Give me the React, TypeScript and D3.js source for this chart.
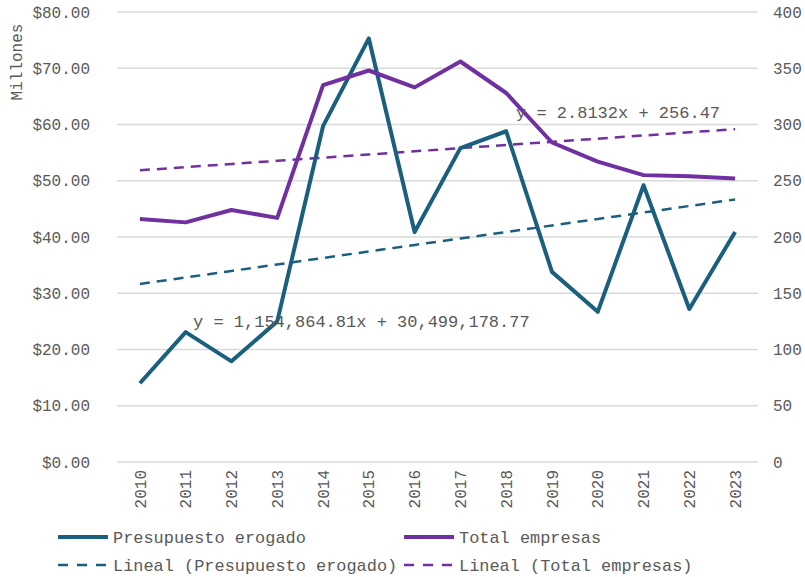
import React from 'react';
import * as d3 from 'd3';

// Años y series
const years = ['2010', '2011', '2012', '2013', '2014', '2015', '2016', '2017', '2018', '2019', '2020', '2021', '2022', '2023'];
// Presupuesto erogado, en pesos (eje izquierdo, millones)
const presupuesto = [14.0, 23.1, 17.9, 25.0, 59.7, 75.3, 40.9, 55.8, 58.8, 33.8, 26.7, 49.2, 27.2, 40.9].map(v => v * 1e6);
// Total empresas (eje derecho)
const empresas = [216, 213, 224, 217, 335, 348, 333, 356, 328, 284, 267, 255, 254, 252];

// Coeficientes de las líneas de tendencia (tal como aparecen en el gráfico)
const trendPresupuesto = { m: 1154864.81, b: 30499178.77 };
const trendEmpresas = { m: 2.8132, b: 256.47 };

const leftTicks = [0, 10, 20, 30, 40, 50, 60, 70, 80];
const rightTicks = [0, 50, 100, 150, 200, 250, 300, 350, 400];

const BLUE = '#1b5f7e';
const PURPLE = '#7030a0';
const TEXT = '#595959';
const GRID = '#d9d9d9';
const FONT = '"Liberation Mono", "Courier New", monospace';

export default function App() {
  const width = 805;
  const height = 577;
  const margin = { top: 12, right: 47, bottom: 115, left: 117 };
  const innerW = width - margin.left - margin.right;
  const innerH = height - margin.top - margin.bottom;

  const x = d3.scaleBand().domain(years).range([margin.left, margin.left + innerW]);
  const cx = (d: string) => (x(d) as number) + x.bandwidth() / 2;
  const yL = d3.scaleLinear().domain([0, 80e6]).range([margin.top + innerH, margin.top]);
  const yR = d3.scaleLinear().domain([0, 400]).range([margin.top + innerH, margin.top]);

  const linePres = d3.line<number>().x((_, i) => cx(years[i])).y(d => yL(d));
  const lineEmp = d3.line<number>().x((_, i) => cx(years[i])).y(d => yR(d));

  const trendP = years.map((_, i) => trendPresupuesto.m * (i + 1) + trendPresupuesto.b);
  const trendE = years.map((_, i) => trendEmpresas.m * (i + 1) + trendEmpresas.b);

  const legendItems = [
    { label: 'Presupuesto erogado', color: BLUE, dash: false, x: 58, y: 537 },
    { label: 'Total empresas', color: PURPLE, dash: false, x: 404, y: 537 },
    { label: 'Lineal (Presupuesto erogado)', color: BLUE, dash: true, x: 58, y: 565 },
    { label: 'Lineal (Total empresas)', color: PURPLE, dash: true, x: 404, y: 565 },
  ];

  return (
    <svg width={width} height={height} style={{ position: 'absolute', left: 0, top: 0, background: '#fff' }}
      fontFamily={FONT}>
      {/* líneas de cuadrícula */}
      {leftTicks.map(t => (
        <line key={t} x1={margin.left} x2={margin.left + innerW} y1={yL(t * 1e6)} y2={yL(t * 1e6)}
          stroke={GRID} strokeWidth={1.5} />
      ))}

      {/* eje izquierdo */}
      {leftTicks.map(t => (
        <text key={'l' + t} x={90} y={yL(t * 1e6)} dy="0.35em" textAnchor="end" fontSize={16} fill={TEXT}>
          {'$' + t.toFixed(2)}
        </text>
      ))}
      <text transform={`translate(16,62) rotate(-90)`} dy="0.35em" textAnchor="middle" fontSize={16} fill={TEXT}>
        Millones
      </text>

      {/* eje derecho */}
      {rightTicks.map(t => (
        <text key={'r' + t} x={773} y={yR(t)} dy="0.35em" textAnchor="start" fontSize={16} fill={TEXT}>
          {t}
        </text>
      ))}

      {/* eje x */}
      {years.map(yr => (
        <text key={yr} transform={`translate(${cx(yr)},470) rotate(-90)`} dy="0.35em" textAnchor="end"
          fontSize={16} fill={TEXT}>
          {yr}
        </text>
      ))}

      {/* tendencias */}
      <path d={linePres(trendP) ?? ''} fill="none" stroke={BLUE} strokeWidth={2.5} strokeDasharray="10,7" />
      <path d={lineEmp(trendE) ?? ''} fill="none" stroke={PURPLE} strokeWidth={2.5} strokeDasharray="10,7" />

      {/* series */}
      <path d={linePres(presupuesto) ?? ''} fill="none" stroke={BLUE} strokeWidth={4} strokeLinejoin="round" />
      <path d={lineEmp(empresas) ?? ''} fill="none" stroke={PURPLE} strokeWidth={4} strokeLinejoin="round" />

      {/* ecuaciones */}
      <text x={193} y={321} dy="0.35em" fontSize={17} fill={TEXT}>y = 1,154,864.81x + 30,499,178.77</text>
      <text x={516} y={112} dy="0.35em" fontSize={17} fill={TEXT}>y = 2.8132x + 256.47</text>

      {/* leyenda */}
      {legendItems.map(it => (
        <g key={it.label}>
          <line x1={it.x} x2={it.x + 50} y1={it.y} y2={it.y} stroke={it.color}
            strokeWidth={it.dash ? 2.5 : 4} strokeDasharray={it.dash ? '10,9' : undefined} />
          <text x={it.x + 55} y={it.y} dy="0.35em" fontSize={17} fill={TEXT}
            textLength={it.label.length * 10.15} lengthAdjust="spacingAndGlyphs">
            {it.label}
          </text>
        </g>
      ))}
    </svg>
  );
}
